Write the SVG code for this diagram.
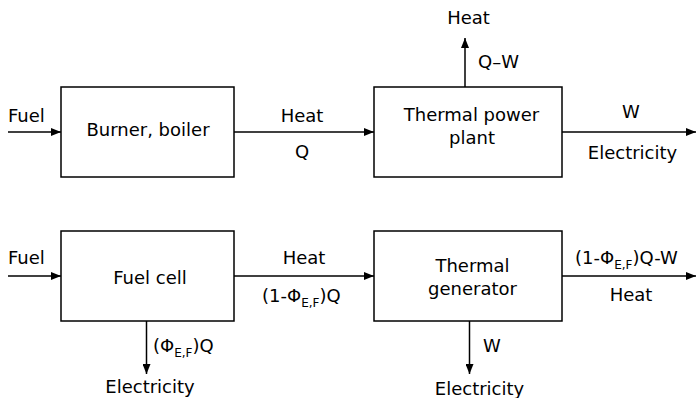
<svg xmlns="http://www.w3.org/2000/svg" width="696" height="398" viewBox="0 0 696 398">
<defs>
<marker id="ah" viewBox="0 0 10 8" refX="10" refY="4" markerWidth="10" markerHeight="8" markerUnits="userSpaceOnUse" orient="auto">
<path d="M0,0 L10,4 L0,8 Z" fill="#000"/>
</marker>
</defs>
<style>
.box{fill:#fff;stroke:#000;stroke-width:1.5}
.ln{fill:none;stroke:#000;stroke-width:1.5}
.arr{fill:none;stroke:#000;stroke-width:1.5;marker-end:url(#ah)}
text{font-family:"DejaVu Sans","Liberation Sans",sans-serif;font-size:18px;fill:#000}
.m{text-anchor:middle}
.sub{font-size:12px}
</style>
<rect width="696" height="398" fill="#fff"/>
<g id="connectors">
<line class="arr" x1="8" y1="132" x2="61" y2="132"/>
<line class="arr" x1="234" y1="132" x2="374" y2="132"/>
<line class="arr" x1="465" y1="87" x2="465" y2="38"/>
<line class="arr" x1="562" y1="132" x2="696" y2="132"/>
<line class="arr" x1="8" y1="276" x2="61" y2="276"/>
<line class="arr" x1="234" y1="276" x2="374" y2="276"/>
<line class="arr" x1="146.5" y1="321" x2="146.5" y2="374"/>
<line class="arr" x1="469.5" y1="321" x2="469.5" y2="374"/>
<line class="arr" x1="562" y1="276" x2="696" y2="276"/>
</g>
<g id="labels">
<text x="8" y="122">Fuel</text>
<text class="m" x="302" y="122">Heat</text>
<text class="m" x="302" y="158">Q</text>
<text class="m" x="468.5" y="24">Heat</text>
<text x="478" y="68">Q–W</text>
<text class="m" x="631" y="118">W</text>
<text class="m" x="632.5" y="159">Electricity</text>
<text x="8" y="264">Fuel</text>
<text class="m" x="304" y="264">Heat</text>
<text x="262" y="302">(1-Φ<tspan class="sub" dy="5">E,F</tspan><tspan dy="-5">)Q</tspan></text>
<text x="153" y="352">(Φ<tspan class="sub" dy="5">E,F</tspan><tspan dy="-5">)Q</tspan></text>
<text class="m" x="150" y="393">Electricity</text>
<text x="575" y="264">(1-Φ<tspan class="sub" dy="5">E,F</tspan><tspan dy="-5">)Q-W</tspan></text>
<text class="m" x="631" y="301">Heat</text>
<text x="483" y="352">W</text>
<text class="m" x="479.5" y="395">Electricity</text>
</g>
<g id="burner">
<rect class="box" x="61" y="87" width="173" height="90"/>
<text class="m" x="148" y="136">Burner, boiler</text>
</g>
<g id="thermal-power-plant">
<rect class="box" x="374" y="87" width="188" height="90"/>
<text class="m" x="471.5" y="121">Thermal power</text>
<text class="m" x="472" y="144">plant</text>
</g>
<g id="fuel-cell">
<rect class="box" x="61" y="231" width="173" height="90"/>
<text class="m" x="150" y="284">Fuel cell</text>
</g>
<g id="thermal-generator">
<rect class="box" x="374" y="231" width="188" height="90"/>
<text class="m" x="472.5" y="272">Thermal</text>
<text class="m" x="472.5" y="295">generator</text>
</g>
</svg>
